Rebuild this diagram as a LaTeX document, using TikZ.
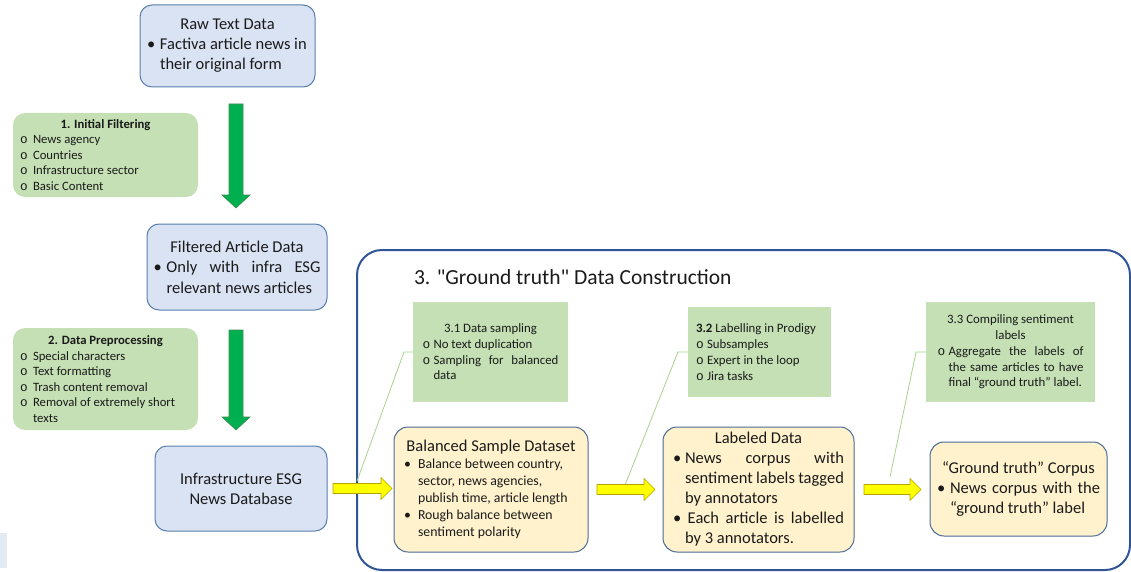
\documentclass[tikz,border=0pt]{standalone}
\usepackage{fontspec}
\setmainfont{Carlito}
\newfontfamily\titlef{Carlito}[Ligatures=TeXOff]
\newfontfamily\monof{Liberation Mono}
\usetikzlibrary{calc}
\definecolor{bfill}{HTML}{DAE3F3}
\definecolor{bdraw}{HTML}{5A7FAE}
\definecolor{gfill}{HTML}{C5E0B4}
\definecolor{yfill}{HTML}{FFF2CC}
\definecolor{ydraw}{HTML}{4A6A96}
\definecolor{outercol}{HTML}{2F5597}
\definecolor{garrow}{HTML}{00B050}
\definecolor{garrowd}{HTML}{3C8C4E}
\definecolor{yarrow}{HTML}{FFFF00}
\definecolor{yarrowd}{HTML}{B5A400}
\definecolor{calloutcol}{HTML}{A9D18E}
\definecolor{txt}{HTML}{1A1A1A}
\definecolor{smallrect}{HTML}{E2EAF4}

\newcommand\fs[2]{\fontsize{#1}{#2}\selectfont}
\newcommand\itm[3]{\par\hangindent=#1\hangafter=1\noindent\hbox to #1{#2\hfil}#3\par}
\newcommand\ttl[1]{{\centering #1\par}}
\newcommand\om{{\monof o}}
\newcommand\bu{\textbullet}

\newcommand\varrowpath[3]{%
  \path[#1] let \p1=#2, \p2=#3 in
  (\x1-7pt,\y1) -- (\x1-7pt,\y2+13pt) -- (\x1-14pt,\y2+13pt) -- (\x1,\y2) --
  (\x1+14pt,\y2+13pt) -- (\x1+7pt,\y2+13pt) -- (\x1+7pt,\y1) -- cycle;}
\newcommand\harrowpath[5]{%
  \path[#1] let \p1=(#2), \p2=(#3) in
  (\x1+#4,\y1+5pt) -- (\x2-#5-11pt,\y1+5pt) -- (\x2-#5-11pt,\y1+11pt) -- (\x2-#5,\y1) --
  (\x2-#5-11pt,\y1-11pt) -- (\x2-#5-11pt,\y1-5pt) -- (\x1+#4,\y1-5pt) -- cycle;}

\begin{document}
\begin{tikzpicture}[x=1pt,y=-1pt,
  every node/.style={inner sep=0pt, outer sep=0pt, text=txt,
    execute at begin node={\setlength\parindent{0pt}}},
  bbox/.style={draw=bdraw, line width=1pt, fill=bfill, rounded corners=12pt},
  gbox/.style={fill=gfill, rounded corners=12pt},
  grect/.style={fill=gfill},
  ybox/.style={draw=ydraw, line width=1pt, fill=yfill, rounded corners=14pt},
  garr/.style={fill=garrow, draw=garrowd, line width=0.6pt},
  yarr/.style={fill=yarrow, draw=yarrowd, line width=0.6pt},
  callline/.style={draw=calloutcol, line width=0.8pt},
  outerbox/.style={draw=outercol, line width=2pt, rounded corners=25pt}
]
\useasboundingbox (0,0) rectangle (1131,572);
\fill[smallrect] (0,533) rectangle (7,568);

% outer frame
\node[outerbox, minimum width=773pt, minimum height=320pt] (outer) at (743.5,410) {};
\node[anchor=west, font=\titlef\fs{21.5}{26}] (title) at (414,277) {3. "Ground truth" Data Construction};

% left column
\node[bbox, minimum width=175pt, minimum height=82pt, text width=161pt, align=justify] (raw) at (227.5,46)
 {\fs{16.5}{20}\ttl{Raw Text Data}\itm{13pt}{\bu}{Factiva article news in\newline their original form}};

\node[gbox, minimum width=185pt, minimum height=84pt, text width=171pt, align=justify] (f1) at (105.5,155)
 {\fs{12.7}{15.5}\ttl{\bfseries 1. Initial Filtering}%
  \itm{13pt}{\om}{News agency}\itm{13pt}{\om}{Countries}%
  \itm{13pt}{\om}{Infrastructure sector}\itm{13pt}{\om}{Basic Content}};

\node[bbox, minimum width=180pt, minimum height=86pt, text width=167pt, align=justify] (filt) at (237,267)
 {\fs{16.5}{20.5}\ttl{Filtered Article Data}\itm{13pt}{\bu}{Only with infra ESG\linebreak relevant news articles}};

\node[gbox, minimum width=185pt, minimum height=102pt, text width=171pt, align=justify] (f2) at (105.5,379)
 {\fs{12.7}{15.5}\ttl{\bfseries 2. Data Preprocessing}%
  \itm{13pt}{\om}{Special characters}\itm{13pt}{\om}{Text formatting}%
  \itm{13pt}{\om}{Trash content removal}\itm{13pt}{\om}{Removal of extremely short\newline texts}};

\node[bbox, minimum width=172pt, minimum height=85pt, align=center, font=\fs{16.5}{20}] (infra) at (241,488.5)
 {Infrastructure ESG\\News Database};

% green arrows
\varrowpath{garr}{($(raw.south)+(8.5,17)$)}{($(filt.north)+(-1,-16)$)}
\varrowpath{garr}{($(filt.south)+(-1,20)$)}{($(infra.north)+(-5,-16)$)}

% section 3 green notes
\node[grect, minimum width=155pt, minimum height=100pt, text width=136pt, align=justify] (r31) at (490.5,352)
 {\fs{12.8}{15.7}\ttl{3.1 Data sampling}\itm{11pt}{\om}{No text duplication}%
  \itm{11pt}{\om}{Sampling for balanced\linebreak data}};

\node[grect, minimum width=143pt, minimum height=90pt, text width=127pt, align=justify] (r32) at (759.5,352)
 {\fs{12.8}{16}\noindent\textbf{3.2} Labelling in Prodigy\par
  \itm{11pt}{\om}{Subsamples}\itm{11pt}{\om}{Expert in the loop}\itm{11pt}{\om}{Jira tasks}};

\node[grect, minimum width=169pt, minimum height=100pt, text width=146pt, align=justify] (r33) at (1010.5,352)
 {\fs{12.8}{15.7}\ttl{3.3 Compiling sentiment\\labels}%
  \itm{11pt}{\om}{Aggregate the labels of\linebreak the same articles to have\linebreak final “ground truth” label.}};

% yellow result boxes
\node[ybox, minimum width=194pt, minimum height=125pt, text width=174pt, align=justify] (bal) at (491,489.5)
 {\fs{16.5}{20}\ttl{Balanced Sample Dataset}\fs{13.8}{17}%
  \itm{14pt}{\bu}{Balance between country,\newline sector, news agencies,\newline publish time, article length}%
  \itm{14pt}{\bu}{Rough balance between\newline sentiment polarity}};

\node[ybox, minimum width=191pt, minimum height=125pt, text width=171pt, align=justify] (lab) at (758.5,489.5)
 {\fs{16.5}{20}\ttl{Labeled Data}%
  \itm{12pt}{\bu}{News corpus with\linebreak sentiment labels tagged\linebreak by annotators}%
  \itm{12pt}{\bu}{\,Each article is labelled\linebreak by 3 annotators.}};

\node[ybox, minimum width=177pt, minimum height=94pt, text width=163pt, align=justify] (gt) at (1018.5,489)
 {\fs{16.5}{20}\ttl{“Ground truth” Corpus}%
  \itm{13pt}{\bu}{News corpus with the\linebreak “ground truth” label}};

% callout lines
\coordinate (c31) at (357,481);
\coordinate (c32) at (625,485);
\coordinate (c33) at (890,477);
\draw[callline] (r31.west) -- ++(-9,0) -- (c31);
\draw[callline] (r32.west) -- ++(-10,0) -- (c32);
\draw[callline] (r33.west) -- ++(-10,0) -- (c33);

% yellow arrows
\harrowpath{yarr}{infra.east}{bal.west}{6pt}{2pt}
\harrowpath{yarr}{bal.east}{lab.west}{9pt}{8pt}
\harrowpath{yarr}{lab.east}{gt.west}{10pt}{9pt}
\end{tikzpicture}
\end{document}
